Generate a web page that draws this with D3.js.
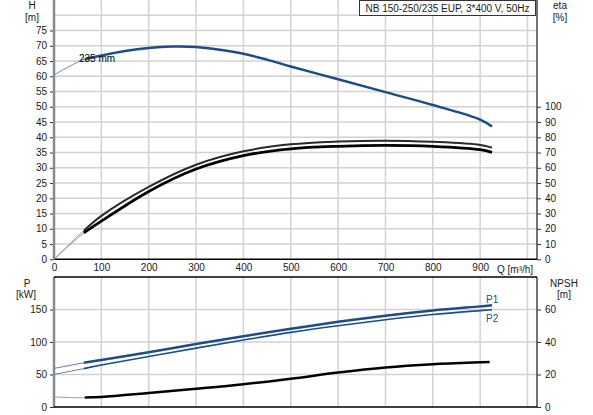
<!DOCTYPE html>
<html>
<head>
<meta charset="utf-8">
<script src="https://cdn.jsdelivr.net/npm/d3@7"></script>
<style>
  body { margin: 0; background: #fff; }
  svg { display: block; font-family: "Liberation Sans", Arial, sans-serif; }
</style>
</head>
<body>
<div id="chart"></div>
<script>
// Data
const qTicks = [0, 100, 200, 300, 400, 500, 600, 700, 800, 900];
const hTicks = [0, 5, 10, 15, 20, 25, 30, 35, 40, 45, 50, 55, 60, 65, 70, 75];
const etaTicks = [0, 10, 20, 30, 40, 50, 60, 70, 80, 90, 100];
const pTicks = [0, 50, 100, 150];
const npshTicks = [0, 20, 40, 60];

// head curve, 235 mm impeller
const qHead = [0, 65, 100, 150, 200, 250, 300, 350, 400, 450, 500, 600, 700, 800, 900, 925];
const head  = [60.5, 65.6, 66.8, 68.3, 69.3, 69.75, 69.6, 68.7, 67.4, 65.45, 63.2, 59, 54.8, 50.6, 45.8, 43.5];

// efficiency curves
const qEta = [0, 63, 100, 200, 300, 400, 500, 600, 700, 800, 900, 925];
const eta1 = [0, 18.8, 28.5, 47.5, 62, 70.8, 75.4, 77.2, 77.8, 77, 75, 73.2];
const eta2 = [0, 17.3, 25, 44.5, 59.2, 68, 72.4, 74.1, 74.7, 74.1, 71.9, 70.1];

// power curves
const qPow = [0, 63, 100, 200, 300, 400, 500, 600, 700, 800, 900, 925];
const p1 = [59.4, 68, 72.3, 84.2, 96.8, 109, 120.3, 131, 140.4, 148.4, 154.8, 156.5];
const p2 = [50.2, 59, 64.5, 77.6, 90.6, 103, 114.8, 125, 134.2, 142.2, 148.3, 149.7];

// NPSH curve
const qNpsh = [0, 50, 65, 100, 200, 300, 400, 500, 600, 700, 800, 900, 920];
const npsh  = [6.2, 5.7, 5.8, 6.2, 8.6, 11.2, 14, 17.4, 21.2, 24.3, 26.3, 27.5, 27.7];

const qSplit = 63; // where the solid (valid) part of each curve starts

const W = 593, H = 415;
const left = 54, right = 537;
const topT = 0, botT = 259.3;
const topB = 277, botB = 407;
const blue = "#1d4d88";
const txt = "#1a1a1a";
const fs = "10px";

const svg = d3.select("#chart").append("svg")
  .attr("width", W).attr("height", H);

// Scales
const x = d3.scaleLinear().domain([0, 1020]).range([left, right]);
const yH = d3.scaleLinear().domain([0, 85]).range([botT, topT]);
const yEta = d3.scaleLinear().domain([0, 170]).range([botT, topT]);
const yP = d3.scaleLinear().domain([0, 200]).range([botB, topB]);
const yN = d3.scaleLinear().domain([0, 80]).range([botB, topB]);

// Grid
const grid = svg.append("g").attr("stroke", "#d2d2d2").attr("stroke-width", 1.5);
d3.range(100, 1001, 100).forEach(v => {
  grid.append("line").attr("x1", x(v)).attr("x2", x(v)).attr("y1", topT).attr("y2", botT);
  grid.append("line").attr("x1", x(v)).attr("x2", x(v)).attr("y1", topB).attr("y2", botB);
});
d3.range(5, 81, 5).forEach(v => {
  grid.append("line").attr("x1", left).attr("x2", right).attr("y1", yH(v)).attr("y2", yH(v));
});
[50, 100, 150].forEach(v => {
  grid.append("line").attr("x1", left).attr("x2", right).attr("y1", yP(v)).attr("y2", yP(v));
});

// Axes
function leftAxis(scale, ticks, y0, y1) {
  const g = svg.append("g").attr("transform", `translate(${left},0)`)
    .call(d3.axisLeft(scale).tickValues(ticks).tickSize(4).tickPadding(3));
  g.select(".domain").remove();
  g.selectAll(".tick line").attr("stroke", "#333");
  g.selectAll("text").attr("fill", txt).style("font-size", fs);
  svg.append("line").attr("x1", left).attr("x2", left).attr("y1", y0).attr("y2", y1)
    .attr("stroke", "#8a8a8a").attr("stroke-width", 2.5);
}
function rightAxis(scale, ticks, y0, y1) {
  const g = svg.append("g").attr("transform", `translate(${right},0)`)
    .call(d3.axisRight(scale).tickValues(ticks).tickSize(4).tickPadding(4));
  g.select(".domain").remove();
  g.selectAll(".tick line").attr("stroke", "#333");
  g.selectAll("text").attr("fill", txt).style("font-size", fs);
  svg.append("line").attr("x1", right).attr("x2", right).attr("y1", y0).attr("y2", y1)
    .attr("stroke", "#444").attr("stroke-width", 1.5);
}
leftAxis(yH, hTicks, topT, botT);
rightAxis(yEta, etaTicks, topT, botT);
leftAxis(yP, pTicks, topB, botB);
rightAxis(yN, npshTicks, topB, botB);

// x axis between the two panels
const gx = svg.append("g").attr("transform", `translate(0,${botT})`)
  .call(d3.axisBottom(x).tickValues(qTicks).tickSize(0).tickPadding(5));
gx.select(".domain").remove();
gx.selectAll("text").attr("fill", txt).style("font-size", fs);
svg.append("line").attr("x1", left).attr("x2", right).attr("y1", botT).attr("y2", botT)
  .attr("stroke", "#000").attr("stroke-width", 1.5);
svg.append("line").attr("x1", left).attr("x2", right).attr("y1", topB).attr("y2", topB)
  .attr("stroke", "#000").attr("stroke-width", 1.5);
svg.append("line").attr("x1", left).attr("x2", right).attr("y1", botB).attr("y2", botB)
  .attr("stroke", "#000").attr("stroke-width", 1.5);

svg.append("text").attr("x", 497).attr("y", botT + 13.5)
  .attr("fill", txt).style("font-size", fs).text("Q [m³/h]");

// Axis titles
function title(tx, ty, s) {
  svg.append("text").attr("x", tx).attr("y", ty).attr("text-anchor", "middle")
    .attr("fill", txt).style("font-size", fs).text(s);
}
title(32, 9, "H");
title(32, 21, "[m]");
title(560, 9, "eta");
title(560, 21, "[%]");
title(27, 287, "P");
title(26, 298, "[kW]");
title(564, 287, "NPSH");
title(564, 298, "[m]");

// Curves
function drawCurve(qs, vs, yScale, color, thinColor, width) {
  const pts = qs.map((q, i) => [q, vs[i]]);
  const line = d3.line().x(d => x(d[0])).y(d => yScale(d[1])).curve(d3.curveCatmullRom.alpha(0.5));
  const thick = pts.filter(d => d[0] >= qSplit - 2);
  svg.append("path").attr("d", line(pts.filter(d => d[0] <= 100)))
    .attr("fill", "none").attr("stroke", thinColor).attr("stroke-width", 1);
  svg.append("path").attr("d", line(thick))
    .attr("fill", "none").attr("stroke", color).attr("stroke-width", width)
    .attr("stroke-linecap", "butt");
}

drawCurve(qEta, eta1, yEta, "#2a2a2a", "#9a9a9a", 2);
drawCurve(qEta, eta2, yEta, "#000", "#9a9a9a", 2.8);
drawCurve(qHead, head, yH, blue, "#6f86a8", 2.5);
drawCurve(qPow, p1, yP, blue, "#5f7aa0", 2.5);
drawCurve(qPow, p2, yP, blue, "#5f7aa0", 1.6);
drawCurve(qNpsh, npsh, yN, "#000", "#9a9a9a", 2.5);

// Labels
svg.append("text").attr("x", 79).attr("y", 62).attr("fill", "#000")
  .style("font-size", fs).text("235 mm");
svg.append("text").attr("x", 486).attr("y", 303).attr("fill", blue)
  .style("font-size", fs).text("P1");
svg.append("text").attr("x", 486).attr("y", 322).attr("fill", blue)
  .style("font-size", fs).text("P2");

// Title box
svg.append("rect").attr("x", 359.5).attr("y", 0.5).attr("width", 176).attr("height", 15)
  .attr("fill", "#fff").attr("stroke", "#333");
svg.append("text").attr("x", 447.5).attr("y", 11.5).attr("text-anchor", "middle")
  .attr("fill", txt).style("font-size", fs).text("NB 150-250/235 EUP, 3*400 V, 50Hz");
</script>
</body>
</html>
